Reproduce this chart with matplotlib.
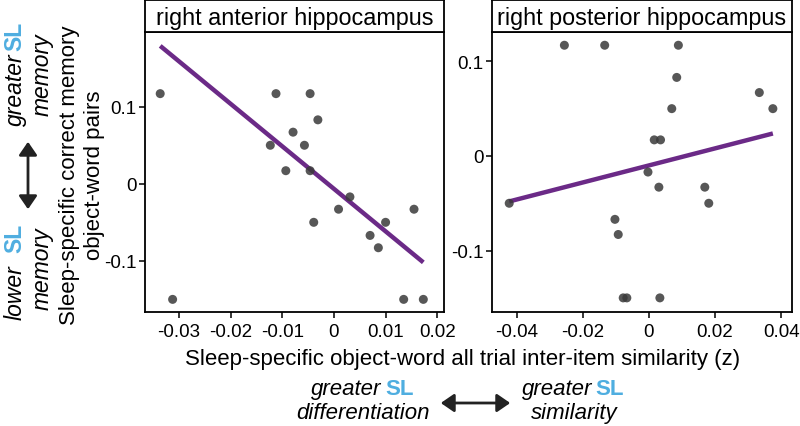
import numpy as np
import matplotlib
matplotlib.use("Agg")
import matplotlib.pyplot as plt
from matplotlib.patches import FancyArrowPatch

plt.rcParams['font.family'] = ['Liberation Sans', 'DejaVu Sans']

# right anterior hippocampus
ant_x = [-0.0336, -0.0312, -0.0112, -0.0046, -0.0031, -0.0079, -0.0123, -0.0057,
         -0.0093, -0.0046, 0.0031, 0.0009, 0.0155, -0.0039, 0.0100, 0.0070,
         0.0086, 0.0135, 0.0173]
ant_y = [0.117, -0.150, 0.117, 0.117, 0.083, 0.067, 0.050, 0.050,
         0.017, 0.017, -0.017, -0.033, -0.033, -0.050, -0.050, -0.067,
         -0.083, -0.150, -0.150]
ant_fit = (-5.52, -0.0065)   # slope, intercept of the drawn fit line

# right posterior hippocampus
pos_x = [-0.0256, -0.0134, 0.0089, 0.0084, 0.0334, 0.0375, 0.0069, 0.0016,
         0.0035, -0.0003, 0.0030, 0.0169, 0.0181, -0.0423, -0.0103, -0.0093,
         -0.0078, -0.0067, 0.0033]
pos_y = [0.117, 0.117, 0.117, 0.083, 0.067, 0.050, 0.050, 0.017,
         0.017, -0.017, -0.033, -0.033, -0.050, -0.050, -0.067, -0.083,
         -0.150, -0.150, -0.150]
pos_fit = (0.90, -0.0100)

titles = ["right anterior hippocampus", "right posterior hippocampus"]
ant_xticks = [-0.03, -0.02, -0.01, 0, 0.01, 0.02]
pos_xticks = [-0.04, -0.02, 0, 0.02, 0.04]
ant_yticks = [-0.1, 0, 0.1]
pos_yticks = [-0.1, 0, 0.1]

W, H = 800, 427
fig = plt.figure(figsize=(8, 4.27), dpi=100)

purple = "#6B2A87"
blue = "#4FAEE0"


def fx(px):
    return px / W


def fy(py):
    return 1 - py / H


def panel(left, right, xs, ys, fit, xlim, ylim, xticks, yticks, title):
    ax = fig.add_axes([fx(left), fy(312.7), fx(right - left), (312.7 - 33) / H])
    lx = np.array([min(xs), max(xs)])
    ax.plot(lx, fit[1] + fit[0] * lx, color=purple, lw=3.2, zorder=2, solid_capstyle='butt')
    ax.scatter(xs, ys, s=42, color="#3a3a3a", alpha=0.85, edgecolors='none', zorder=3)
    ax.set_xlim(*xlim)
    ax.set_ylim(*ylim)
    ax.set_xticks(xticks)
    ax.set_xticklabels([f"{t:g}" for t in xticks])
    ax.set_yticks(yticks)
    ax.set_yticklabels([f"{t:g}" for t in yticks])
    ax.tick_params(labelsize=13.5, length=4, width=1.1, pad=2, color='black')
    ax.tick_params(axis='x', pad=4)
    for s in ax.spines.values():
        s.set_linewidth(1.3)
    # strip
    st = fig.add_axes([fx(left), fy(33), fx(right - left), 32.5 / H])
    st.set_xticks([])
    st.set_yticks([])
    for s in st.spines.values():
        s.set_linewidth(1.3)
    st.text(0.5, 0.45, title, ha='center', va='center', fontsize=16.8, transform=st.transAxes)
    return ax


panel(144.7, 444, ant_x, ant_y, ant_fit, (-0.0366, 0.0213), (-0.166, 0.197),
      ant_xticks, ant_yticks, titles[0])
panel(491.7, 791.7, pos_x, pos_y, pos_fit, (-0.0476, 0.0432), (-0.1646, 0.131),
      pos_xticks, pos_yticks, titles[1])

fig.text(fx(462.5), fy(360), "Sleep-specific object-word all trial inter-item similarity (z)",
         ha='center', va='center', fontsize=16)
fig.text(fx(82), fy(175), "Sleep-specific correct memory\nobject-word pairs",
         ha='center', va='center', rotation=90, fontsize=16, linespacing=1.3)

it = dict(fontsize=16.5, style='italic', rotation=90, rotation_mode='anchor')
sl = dict(fontsize=16.5, fontweight='bold', color=blue, rotation=90, rotation_mode='anchor')

# left side annotations (rotated)
fig.text(fx(15), fy(53.5), "greater", ha='right', va='center', **it)
fig.text(fx(15), fy(51), "SL", ha='left', va='center', **sl)
fig.text(fx(42), fy(33), "memory", ha='right', va='center', **it)
fig.text(fx(15), fy(320), "lower", ha='left', va='center', **it)
fig.text(fx(15), fy(253.5), "SL", ha='left', va='center', **sl)
fig.text(fx(42), fy(227), "memory", ha='right', va='center', **it)
fig.add_artist(FancyArrowPatch((fx(28), fy(140)), (fx(28), fy(213)), transform=fig.transFigure,
                               arrowstyle='<|-|>,head_length=8,head_width=5.5', color='#222222',
                               lw=2, mutation_scale=1))

# bottom annotations
ith = dict(fontsize=16, style='italic')
slh = dict(fontsize=16, fontweight='bold', color=blue)
fig.text(fx(381), fy(390), "greater", ha='right', va='center', **ith)
fig.text(fx(385), fy(390), "SL", ha='left', va='center', **slh)
fig.text(fx(363.3), fy(414), "differentiation", ha='center', va='center', **ith)
fig.text(fx(592), fy(390), "greater", ha='right', va='center', **ith)
fig.text(fx(595), fy(390), "SL", ha='left', va='center', **slh)
fig.text(fx(574), fy(414), "similarity", ha='center', va='center', **ith)
fig.add_artist(FancyArrowPatch((fx(438), fy(404)), (fx(513), fy(404)), transform=fig.transFigure,
                               arrowstyle='<|-|>,head_length=8,head_width=5.5', color='#222222',
                               lw=2, mutation_scale=1))

fig.savefig("out.png", dpi=100)
